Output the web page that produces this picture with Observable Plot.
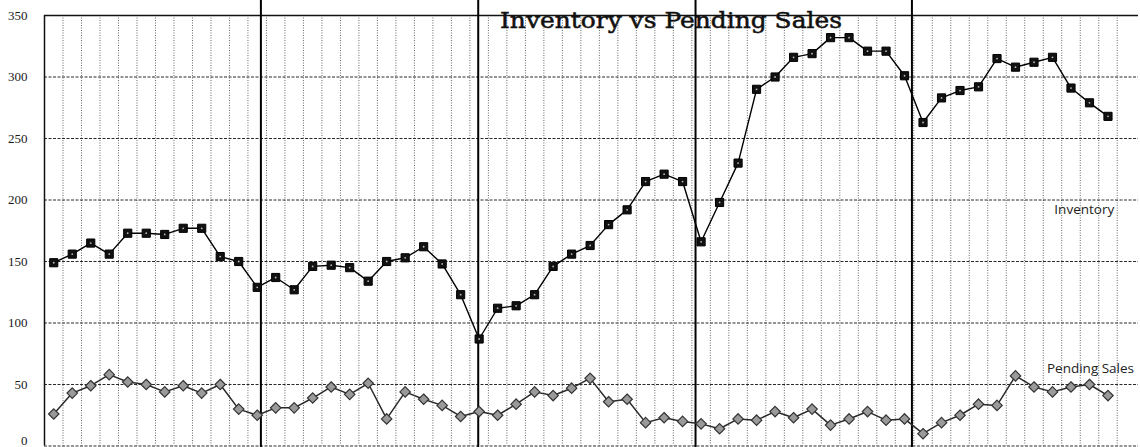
<!DOCTYPE html>
<html><head><meta charset="utf-8">
<script src="https://cdn.jsdelivr.net/npm/d3@7"></script>
<script src="https://cdn.jsdelivr.net/npm/@observablehq/plot@0.6"></script>
<style>
body{margin:0;background:#fff}
#chart{position:relative;width:1140px;height:447px;overflow:hidden}
#chart svg{display:block}
</style>
</head><body><div id="chart"></div>
<script>
const title = "Inventory vs Pending Sales";
const inventory = [149,156,165,156,173,173,172,177,177,154,150,129,
                   137,127,146,147,145,134,150,153,162,148,123,87,
                   112,114,123,146,156,163,180,192,215,221,215,166,
                   198,230,290,300,316,319,332,332,321,321,301,263,
                   283,289,292,315,308,312,316,291,279,268];
const pendingSales = [26,43,49,58,52,50,44,49,43,50,30,25,
                      31,31,39,48,42,51,22,44,38,33,24,28,
                      25,34,44,41,47,55,36,38,19,23,20,18,
                      14,22,21,28,23,30,17,22,28,21,22,10,
                      19,25,34,33,57,48,44,48,50,41];
const yTicks = [0,50,100,150,200,250,300,350];
const yearBreaks = [11.2, 22.95, 34.7, 46.4];
const seriesNames = ["Inventory", "Pending Sales"];
const labelX = [54.1, 53.7];
const labelY = [192, 63];

const months = inventory.map((_, i) => i);
const invData = inventory.map((v, i) => ({i, v}));
const penData = pendingSales.map((v, i) => ({i, v}));
const boundaries = months.map(i => i + 0.5);
const labels = seriesNames.map((name, k) => ({name, x: labelX[k], y: labelY[k]}));
const tickFont = {fontFamily: "Liberation Serif", fontSize: 13, fill: "#1a1a1a"};

const chart = Plot.plot({
  width: 1140, height: 447,
  marginLeft: 44, marginRight: 2, marginTop: 15, marginBottom: 1.5,
  x: {domain: [-0.5, 58.65], axis: null},
  y: {domain: [0, 350], axis: null},
  style: {background: "#fff", overflow: "visible"},
  marks: [
    Plot.ruleX(boundaries, {stroke: "#666", strokeWidth: 1, strokeDasharray: "1,1.5"}),
    Plot.ruleY(yTicks.slice(0, -1), {stroke: "#2a2a2a", strokeWidth: 1, strokeDasharray: "3,1.5"}),
    Plot.ruleY([350], {stroke: "#111", strokeWidth: 1.5}),
    Plot.ruleX([-0.5], {stroke: "#111", strokeWidth: 1.5}),
    Plot.ruleX(yearBreaks, {y1: -2, y2: 363, stroke: "#000", strokeWidth: 2}),
    Plot.axisY(yTicks.slice(1), {tickSize: 0, tickPadding: 17, label: null, ...tickFont}),
    Plot.text([yTicks[0]], {y: d => d, text: d => String(d), frameAnchor: "left", textAnchor: "end", lineAnchor: "bottom", dx: -17, dy: -1.5, ...tickFont}),
    Plot.line(penData, {x: "i", y: "v", stroke: "#2a2a2a", strokeWidth: 1.5}),
    Plot.dot(penData, {x: "i", y: "v", symbol: "diamond2", r: 4.7, fill: "#9a9a9a", stroke: "#333", strokeWidth: 1.2}),
    Plot.line(invData, {x: "i", y: "v", stroke: "#000", strokeWidth: 1.4}),
    Plot.dot(invData, {x: "i", y: "v", symbol: "square", r: 4.6, fill: "#111", stroke: "#000", strokeWidth: 1}),
    Plot.dot(invData, {x: "i", y: "v", r: 0.9, fill: "#bbb", stroke: null}),
    Plot.text(labels, {x: "x", y: "y", text: "name", textAnchor: "start", fontFamily: "Open Sans", fontSize: 13.5, fill: "#222"})
  ]
});

d3.select(chart).append("text")
  .attr("x", 500).attr("y", 28)
  .attr("text-anchor", "start")
  .attr("font-family", "DejaVu Serif")
  .attr("font-size", 22)
  .attr("fill", "#111").attr("stroke", "#111").attr("stroke-width", 0.5)
  .attr("textLength", 342).attr("lengthAdjust", "spacingAndGlyphs")
  .text(title);

document.getElementById("chart").appendChild(chart);
</script>
</body></html>
